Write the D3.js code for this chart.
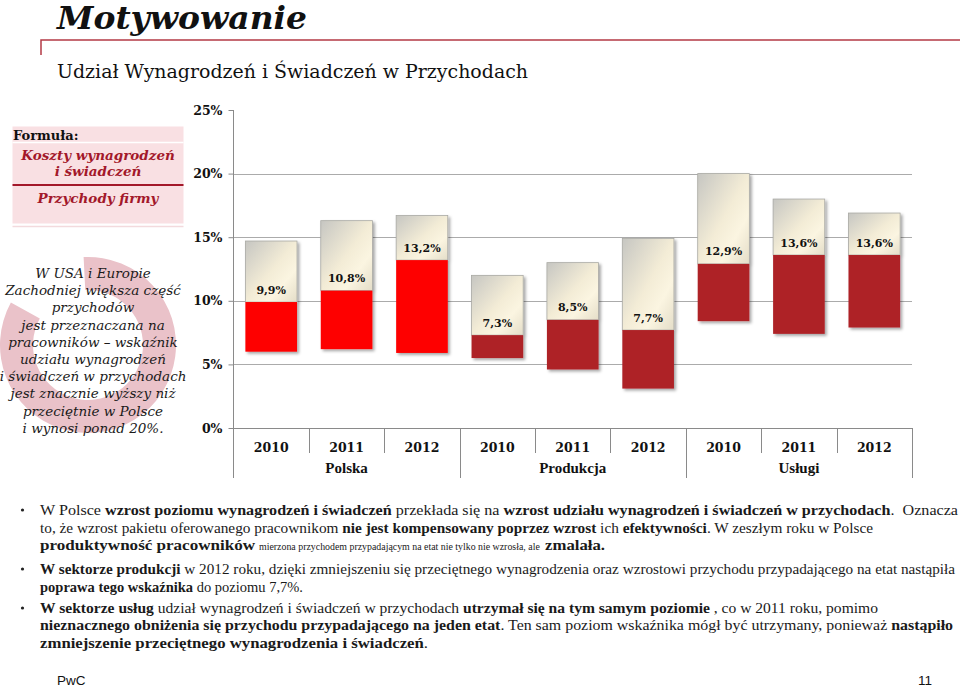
<!DOCTYPE html>
<html><head><meta charset="utf-8">
<script src="https://cdn.jsdelivr.net/npm/d3@7"></script>
<style>body{margin:0;background:#fff}svg{display:block}</style>
</head><body>
<svg id="c" width="960" height="688"></svg>
<script>
// ---- data ----
const groups = ["Polska", "Produkcja", "Usługi"];
const years = ["2010", "2011", "2012"];
const values = [9.9, 10.8, 13.2, 7.3, 8.5, 7.7, 12.9, 13.6, 13.6];
const lows   = [6.0, 6.2, 5.9, 5.5, 4.6, 3.1, 8.4, 7.4, 7.9];
const highs  = [14.7, 16.3, 16.7, 12.0, 13.0, 14.9, 20.0, 18.0, 16.9];
const yTicks = [0, 5, 10, 15, 20, 25];

const title = "Motywowanie";
const subtitle = "Udział Wynagrodzeń i Świadczeń w Przychodach";
const sideLines = ["W USA i Europie", "Zachodniej większa część", "przychodów",
  "jest przeznaczana na", "pracowników – wskaźnik", "udziału wynagrodzeń",
  "i świadczeń w przychodach", "jest znacznie wyższy niż", "przeciętnie w Polsce",
  "i wynosi ponad 20%."];
const bulletLines = [
  {y: 510, end: 958, bullet: true, segs: [["W Polsce ",0],["wzrost poziomu wynagrodzeń i świadczeń",1],[" przekłada się na ",0],["wzrost udziału wynagrodzeń i świadczeń w przychodach",1],[".  Oznacza",0]]},
  {y: 528, end: 873, segs: [["to, że wzrost pakietu oferowanego pracownikom ",0],["nie jest kompensowany poprzez wzrost",1],[" ich ",0],["efektywności",1],[". W zeszłym roku w Polsce",0]]},
  {y: 545, end: 605, segs: [["produktywność pracowników",1,40,255],["mierzona przychodem przypadającym na etat nie tylko nie wzrosła, ale",0,259,540],["zmalała.",1,545,605]]},
  {y: 569, end: 955, bullet: true, segs: [["W sektorze produkcji",1],[" w 2012 roku, dzięki zmniejszeniu się przeciętnego wynagrodzenia oraz wzrostowi przychodu przypadającego na etat nastąpiła",0]]},
  {y: 587, end: 303, segs: [["poprawa tego wskaźnika",1],[" do poziomu 7,7%.",0]]},
  {y: 608, end: 878, bullet: true, segs: [["W sektorze usług",1],[" udział wynagrodzeń i świadczeń w przychodach ",0],["utrzymał się na tym samym poziomie",1],[" , co w 2011 roku, pomimo",0]]},
  {y: 625, end: 953, segs: [["nieznacznego obniżenia się przychodu przypadającego na jeden etat",1],[". Ten sam poziom wskaźnika mógł być utrzymany, ponieważ ",0],["nastąpiło",1]]},
  {y: 643, end: 428, segs: [["zmniejszenie przeciętnego wynagrodzenia i świadczeń",1],[".",0]]}
];

// ---- setup ----
const svg = d3.select("#c");
const defs = svg.append("defs");
const grad = defs.append("linearGradient").attr("id", "cream")
  .attr("x1", 0).attr("y1", 0).attr("x2", 1).attr("y2", 1);
[[0, "#c6c6c2"], [0.5, "#f3ecd6"], [0.72, "#fbf5e1"], [1, "#e4ddc8"]].forEach(s =>
  grad.append("stop").attr("offset", s[0]).attr("stop-color", s[1]));
const flt = defs.append("filter").attr("id", "sh").attr("x", "-20%").attr("y", "-20%").attr("width", "150%").attr("height", "150%");
flt.append("feDropShadow").attr("dx", 2).attr("dy", 2).attr("stdDeviation", 1.6)
  .attr("flood-color", "#000").attr("flood-opacity", 0.35);

const serif = "'DejaVu Serif', Georgia, serif";

// ---- header ----
svg.append("text").attr("x", 57).attr("y", 29).attr("font-family", serif)
  .attr("font-weight", "bold").attr("font-style", "italic").attr("font-size", 31)
  .attr("fill", "#111").attr("textLength", 250).attr("lengthAdjust", "spacingAndGlyphs").text(title);
svg.append("path").attr("d", "M41,55V40H960").attr("fill", "none")
  .attr("stroke", "#b43a45").attr("stroke-width", 1.5);
svg.append("text").attr("x", 57).attr("y", 78).attr("font-family", serif)
  .attr("font-size", 19).attr("fill", "#111").attr("textLength", 471)
  .attr("lengthAdjust", "spacingAndGlyphs").text(subtitle);

// ---- left panel ----
const ring = d3.arc().innerRadius(55).outerRadius(88)
  .startAngle(-0.05).endAngle(2 * Math.PI * 0.83);
svg.append("path").attr("transform", "translate(88,345)").attr("d", ring())
  .attr("fill", "#eac2c9");

svg.append("rect").attr("x", 12.5).attr("y", 126.5).attr("width", 171).attr("height", 97)
  .attr("fill", "#f9e0e3");
svg.append("line").attr("x1", 12.5).attr("x2", 183.5).attr("y1", 142.5).attr("y2", 142.5)
  .attr("stroke", "#fff").attr("stroke-width", 1.5);
svg.append("line").attr("x1", 12.5).attr("x2", 183.5).attr("y1", 226.5).attr("y2", 226.5)
  .attr("stroke", "#f3dadd").attr("stroke-width", 1.5);
svg.append("line").attr("x1", 12.5).attr("x2", 183.5).attr("y1", 185).attr("y2", 185)
  .attr("stroke", "#a3182a").attr("stroke-width", 2);
svg.append("text").attr("x", 13).attr("y", 140).attr("font-family", serif).attr("font-weight", "bold")
  .attr("font-size", 13).attr("fill", "#111").text("Formuła:");
[["Koszty wynagrodzeń", 160], ["i świadczeń", 176], ["Przychody firmy", 203]].forEach(t =>
  svg.append("text").attr("x", 98).attr("y", t[1]).attr("text-anchor", "middle")
    .attr("font-family", serif).attr("font-weight", "bold").attr("font-style", "italic")
    .attr("font-size", 13.5).attr("fill", "#a3182a").text(t[0]));

svg.append("g").selectAll("text").data(sideLines).join("text")
  .attr("x", 93).attr("y", (d, i) => 278 + i * 17.2).attr("text-anchor", "middle")
  .attr("font-family", serif).attr("font-style", "italic").attr("font-size", 13.5)
  .attr("fill", "#1a1a1a").text(d => d);

// ---- chart ----
const x = d3.scaleBand().domain(d3.range(values.length)).range([233.5, 912])
  .paddingInner(0.315).paddingOuter(0.1575);
const y = d3.scaleLinear().domain([0, 25]).range([428, 110]);

// gridlines
svg.append("g").selectAll("line").data(yTicks.filter(t => t > 0 && t < 25)).join("line")
  .attr("x1", 233.5).attr("x2", 912).attr("y1", d => Math.round(y(d)) + 0.5).attr("y2", d => Math.round(y(d)) + 0.5)
  .attr("stroke", "#ababab").attr("stroke-width", 1);

// y axis
const yAxis = svg.append("g").attr("transform", "translate(233.5,0)")
  .call(d3.axisLeft(y).tickValues(yTicks).tickSize(5).tickPadding(6).tickFormat(d => d + "%"));
yAxis.select(".domain").remove();
yAxis.selectAll(".tick line").attr("stroke", "#8a8a8a");
yAxis.selectAll(".tick text").attr("font-family", serif).attr("font-weight", "bold")
  .attr("font-size", 12.5).attr("fill", "#111");
svg.append("line").attr("x1", 233.5).attr("x2", 233.5).attr("y1", 110).attr("y2", 478)
  .attr("stroke", "#8a8a8a");

// bars
const fmt = v => d3.format(".1f")(v).replace(".", ",") + "%";
const bars = svg.append("g").selectAll("g").data(values.map((v, i) => ({i, v, lo: lows[i], hi: highs[i]})))
  .join("g").attr("filter", "url(#sh)");
bars.append("rect").attr("x", d => x(d.i)).attr("width", x.bandwidth())
  .attr("y", d => y(d.hi)).attr("height", d => y(d.v) - y(d.hi))
  .attr("fill", "url(#cream)").attr("stroke", "#a9a9a4").attr("stroke-width", 0.8);
bars.append("rect").attr("x", d => x(d.i)).attr("width", x.bandwidth())
  .attr("y", d => y(d.v)).attr("height", d => y(d.lo) - y(d.v))
  .attr("fill", d => d.i < 3 ? "#fe0000" : "#ae2328");
svg.append("g").selectAll("text").data(values.map((v, i) => ({i, v}))).join("text")
  .attr("x", d => x(d.i) + x.bandwidth() / 2).attr("y", d => y(d.v) - 8.5)
  .attr("text-anchor", "middle").attr("font-family", serif).attr("font-weight", "bold")
  .attr("font-size", 11).attr("fill", "#111").text(d => fmt(d.v));

// x axis (two levels)
const step = x.step();
const x0 = 233.5;
svg.append("line").attr("x1", x0).attr("x2", 912).attr("y1", 428.5).attr("y2", 428.5).attr("stroke", "#8a8a8a");
const xAxis = svg.append("g").attr("transform", "translate(0,428.5)")
  .call(d3.axisBottom(x).tickSize(0).tickPadding(15).tickFormat(i => years[i % 3]));
xAxis.select(".domain").remove();
xAxis.selectAll(".tick text").attr("font-family", serif).attr("font-weight", "bold")
  .attr("font-size", 12.5).attr("fill", "#111");
const dividers = d3.range(1, values.length).filter(k => k % 3 !== 0);
svg.append("g").selectAll("line").data(dividers).join("line")
  .attr("x1", k => Math.round(x0 + k * step) + 0.5).attr("x2", k => Math.round(x0 + k * step) + 0.5)
  .attr("y1", 428).attr("y2", 453).attr("stroke", "#8a8a8a");
svg.append("g").selectAll("line").data([3, 6, 9]).join("line")
  .attr("x1", k => Math.round(x0 + k * step) + 0.5).attr("x2", k => Math.round(x0 + k * step) + 0.5)
  .attr("y1", 428).attr("y2", 478).attr("stroke", "#8a8a8a");
svg.append("g").selectAll("text").data(groups).join("text")
  .attr("x", (g, gi) => x(gi * 3 + 1) + x.bandwidth() / 2).attr("y", 473)
  .attr("text-anchor", "middle").attr("font-family", "'Liberation Serif', serif").attr("font-weight", "bold")
  .attr("font-size", 15).attr("fill", "#111").text(d => d);

// ---- bullets ----
const bl = svg.append("g");
bulletLines.forEach(L => {
  if (L.bullet) bl.append("circle").attr("cx", 22.5).attr("cy", L.y).attr("r", 1.6).attr("fill", "#222");
  const nodes = L.segs.map(s => bl.append("text").attr("y", L.y + 4.5).attr("x", 0)
    .attr("font-family", "'Liberation Serif', serif").attr("font-size", 14).attr("fill", "#1a1a1a")
    .attr("xml:space", "preserve").style("white-space", "pre")
    .attr("font-weight", s[1] ? "bold" : "normal").text(s[0]));
  const widths = nodes.map(n => n.node().getComputedTextLength());
  const k = (L.end - 40) / d3.sum(widths);
  let cx = 40;
  nodes.forEach((n, i) => {
    const s = L.segs[i];
    if (s.length > 2) {
      const want = s[3] - s[2];
      const r = want / widths[i];
      if (r < 0.9) {
        // strongly compressed segment: shrink the font instead of squeezing glyphs
        n.attr("x", s[2]).attr("font-size", 14 * r);
      } else {
        n.attr("x", s[2]).attr("textLength", want).attr("lengthAdjust", "spacingAndGlyphs");
      }
    } else {
      n.attr("x", cx).attr("textLength", widths[i] * k).attr("lengthAdjust", "spacingAndGlyphs");
      cx += widths[i] * k;
    }
  });
});

// ---- footer ----
svg.append("text").attr("x", 57).attr("y", 685).attr("font-family", "'Liberation Sans', Arial, sans-serif")
  .attr("font-size", 13.5).attr("fill", "#111").text("PwC");
svg.append("text").attr("x", 932).attr("y", 685).attr("text-anchor", "end")
  .attr("font-family", "'Liberation Sans', Arial, sans-serif")
  .attr("font-size", 13.5).attr("fill", "#111").text("11");
</script>
</body></html>
